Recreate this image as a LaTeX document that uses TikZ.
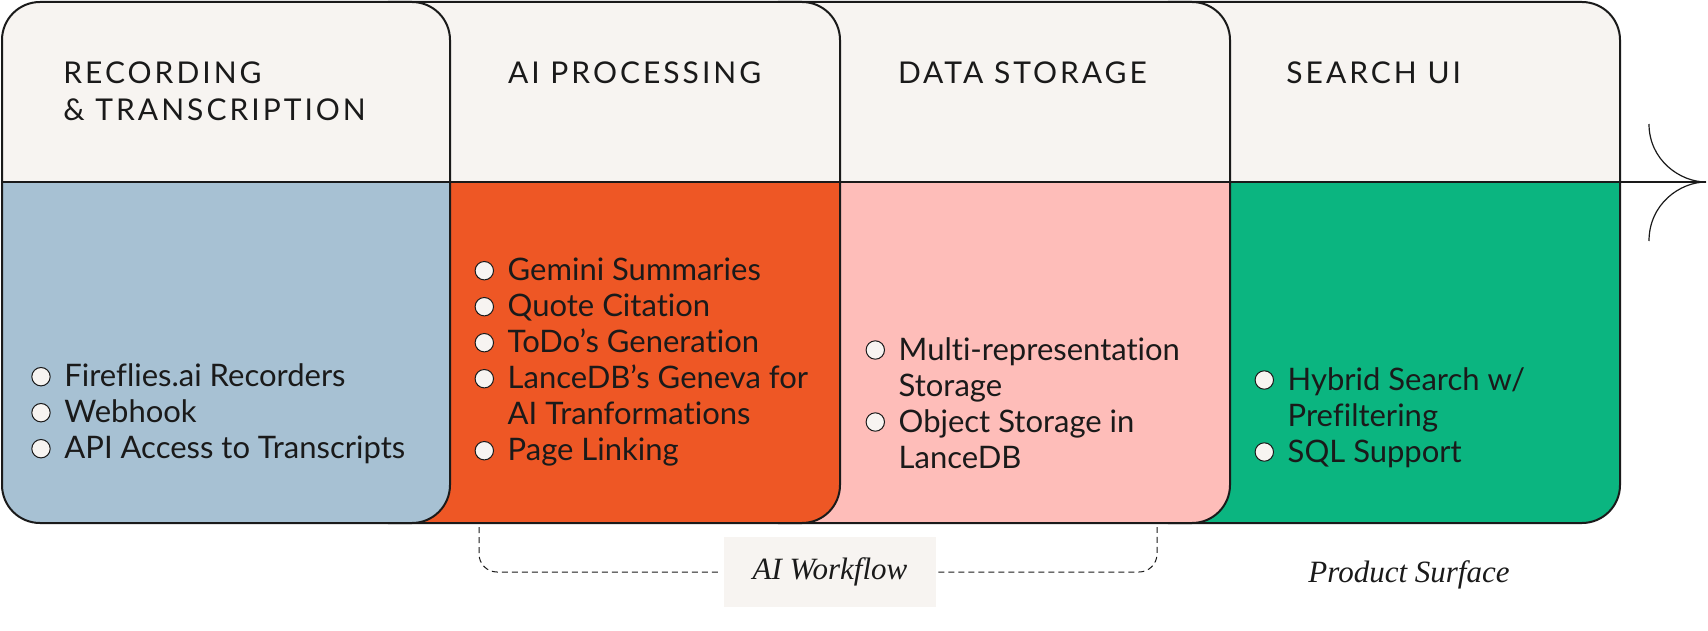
\documentclass[tikz,border=0pt]{standalone}
\usepackage{fontspec}
\newfontfamily\bodyfont[Ligatures=NoCommon]{Lato}
\newfontfamily\headfont[LetterSpace=10]{Lato}
\newfontfamily\flowfont{Liberation Serif}
\usetikzlibrary{positioning}

\definecolor{headbg}{HTML}{F7F4F1}
\definecolor{recblue}{HTML}{A7C1D3}
\definecolor{aiorange}{HTML}{EE5725}
\definecolor{storepink}{HTML}{FEBDB9}
\definecolor{searchgreen}{HTML}{0BB580}
\definecolor{ink}{HTML}{1A1A1A}

\tikzset{
  head/.style={anchor=base west, align=left, text=ink, inner sep=0pt,
    font=\headfont\fontsize{15}{18}\selectfont},
  item/.style={anchor=base west, align=left, text=ink, inner sep=0pt,
    font=\bodyfont\fontsize{15.5}{18}\selectfont},
  bullet/.style={draw=ink, fill=headbg, line width=0.5pt},
  flow/.style={text=ink, inner sep=0pt, font=\flowfont\itshape\fontsize{15.5}{18}\selectfont},
  bracket/.style={draw=ink, dash pattern=on 3pt off 2pt, line width=0.5pt, rounded corners=9pt},
}

\begin{document}
\begin{tikzpicture}[x=0.5pt, y=-0.5pt]
  \useasboundingbox (0,0) rectangle (1708,631);

  % stage cards, back to front
  \foreach \l/\r/\c in {1130/1620/searchgreen, 740/1230/storepink, 350/840/aiorange, 2/450/recblue} {
    \begin{scope}
      \clip (\l,0) rectangle (\r,182);
      \fill[headbg, rounded corners=19pt] (\l,2) rectangle (\r,523);
    \end{scope}
    \begin{scope}
      \clip (\l,182) rectangle (\r,530);
      \fill[\c, rounded corners=19pt] (\l,2) rectangle (\r,523);
    \end{scope}
    \draw[ink, line width=1pt, rounded corners=19pt] (\l,2) rectangle (\r,523);
    \draw[ink, line width=1pt] (\l,182) -- (\r,182);
  }

  % headers (base = last line)
  \node[head] (rec) at (63,120) {RECORDING\\\& TRANSCRIPTION};
  \node[head] (proc) at (507.6,84) {AI PROCESSING};
  \node[head] (store) at (897.6,84) {DATA STORAGE};
  \node[head] (search) at (1286,84) {SEARCH UI};

  % bullet items: name/x/first baseline/extra lines/text
  \foreach \n/\x/\y/\k/\t in {
      fireflies/64/386.7/0/{Fireflies.ai Recorders},
      webhook/64/422.7/0/{Webhook},
      api/64/458.7/0/{API Access to Transcripts},
      gemini/507.3/280.7/0/{Gemini Summaries},
      quote/507.3/316.7/0/{Quote Citation},
      todo/507.3/352.7/0/{ToDo’s Generation},
      geneva/507.3/388.7/1/{LanceDB’s Geneva for\\AI Tranformations},
      linking/507.3/460.7/0/{Page Linking},
      multi/898.3/360/1/{Multi-representation\\Storage},
      object/898.3/432/1/{Object Storage in\\LanceDB},
      hybrid/1287.3/390/1/{Hybrid Search w/\\Prefiltering},
      sql/1287.3/462/0/{SQL Support}} {
    \node[item] (\n) at (\x,{\y+36*\k}) {\t};
    \draw[bullet] ([xshift=-11.5pt, yshift=5pt+18pt*\k]\n.base west) circle[radius=4.6pt];
  }

  % flow arrow
  \coordinate (tip) at (1706,182);
  \draw[ink, line width=1pt] (1620,182) -- (tip);
  \draw[ink, line width=0.6pt] (1649,124) .. controls (1649,160) and (1680,182) .. (tip)
    .. controls (1680,182) and (1649,204) .. (1649,241);

  % workflow bracket
  \node[fill=headbg, minimum width=106pt, minimum height=35.4pt, flow] (wf) at (830,572) {AI Workflow};
  \coordinate (wfl) at (479,527);
  \coordinate (wfr) at (1157,527);
  \draw[bracket] (wfl) |- ([xshift=-1pt]wf.west);
  \draw[bracket] ([xshift=1pt]wf.east) -| (wfr);
  \node[flow] (surface) at (1409,575) {Product Surface};
\end{tikzpicture}
\end{document}
